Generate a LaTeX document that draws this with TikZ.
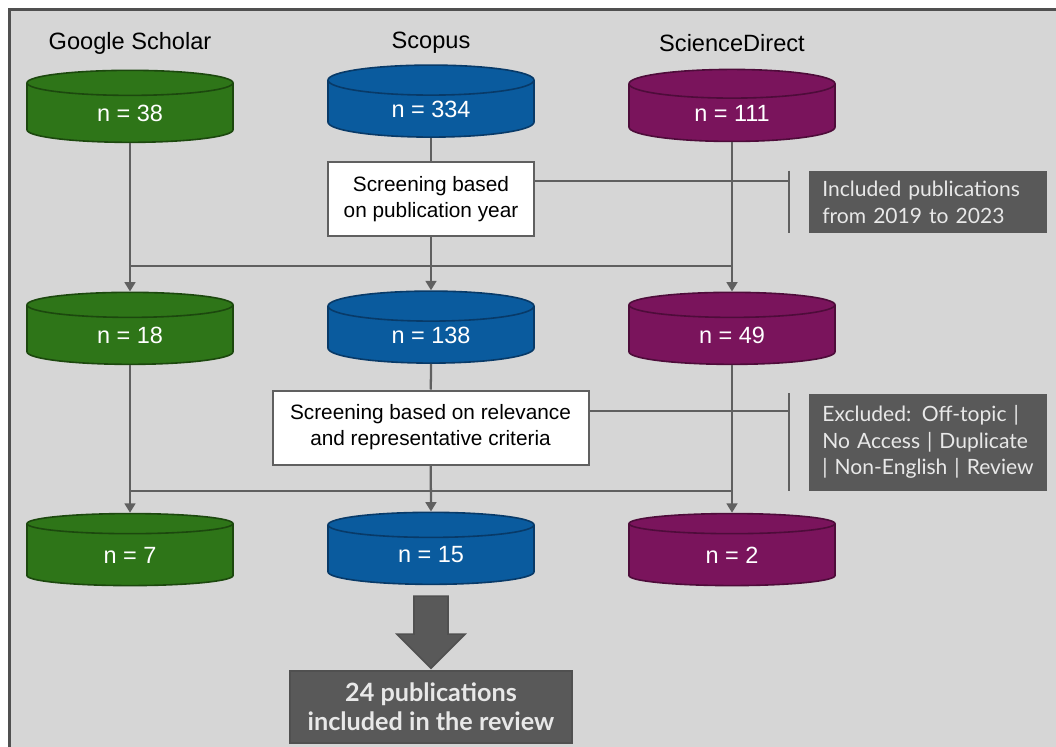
\documentclass[tikz,border=0pt]{standalone}
\usepackage{fontspec}
\setmainfont{Liberation Sans}
\newfontfamily\notefont{Lato}
\usetikzlibrary{shapes.geometric,arrows.meta,calc}
\definecolor{bggray}{RGB}{214,214,214}
\definecolor{framegray}{RGB}{80,80,80}
\definecolor{linegray}{RGB}{96,96,96}
\definecolor{notegray}{RGB}{89,89,89}
\definecolor{notetext}{RGB}{232,232,232}
\definecolor{gsgreen}{RGB}{46,117,24}
\definecolor{gsgreenD}{RGB}{28,72,14}
\definecolor{scblue}{RGB}{10,91,158}
\definecolor{scblueD}{RGB}{8,58,104}
\definecolor{sdpurple}{RGB}{122,20,92}
\definecolor{sdpurpleD}{RGB}{78,12,58}
\begin{document}
\begin{tikzpicture}[x=0.75pt,y=0.75pt,yscale=-1,xscale=1,
  cyl/.style={cylinder, shape border rotate=90, aspect=0.38, minimum width=154.5pt, minimum height=54pt, inner sep=0pt, line width=1.2pt, text=white, font=\fontsize{17.6}{20}\selectfont},
  gscol/.style={fill=gsgreen, draw=gsgreenD},
  sccol/.style={fill=scblue, draw=scblueD},
  sdcol/.style={fill=sdpurple, draw=sdpurpleD},
  dbname/.style={font=\fontsize{17.7}{20}\selectfont},
  screen/.style={draw=linegray, fill=white, line width=1.5pt, align=center, inner sep=0pt, minimum height=55.5pt, font=\fontsize{15.6}{19.5}\selectfont},
  note/.style={fill=notegray, text=notetext, align=left, inner xsep=10pt, inner ysep=0pt, text width=158.5pt, font=\notefont\fontsize{15.8}{20}\selectfont},
  final/.style={fill=notegray, draw=framegray, line width=1.2pt, text=notetext, align=center, inner sep=0pt, minimum width=211.5pt, minimum height=54pt, font=\notefont\bfseries\fontsize{18.9}{21.5}\selectfont},
  link/.style={draw=linegray, line width=1.7pt},
  flow/.style={link, -{Triangle[length=7pt,width=8pt]}},
  bigarrow/.style={fill=notegray, draw=framegray, line width=1.2pt}
]
\path[use as bounding box] (0,0) rectangle (1056,746);
\fill[white] (0,0) rectangle (1056,746);
\draw[fill=bggray, draw=framegray, line width=2.25pt] (9.5,9.5) rectangle (1100,790);

% database names
\node[dbname] (gsname) at (130,43) {Google Scholar};
\node[dbname] (scname) at (431,43) {Scopus};
\node[dbname] (sdname) at (732,43) {ScienceDirect};

% first row
\node[cyl, gscol] (gs1) at (130,113) {n = 38};
\node[cyl, sccol] (sc1) at (431,109) {n = 334};
\node[cyl, sdcol] (sd1) at (732,113) {n = 111};

\node[screen, minimum width=154.5pt] (scr1) at (431,199) {Screening based\\on publication year};
\node[note, minimum height=46.5pt] (note1) at (928,202) {Included publications\\from 2019 to 2023};

% second row
\node[cyl, gscol] (gs2) at (130,335) {n = 18};
\node[cyl, sccol] (sc2) at (431,335) {n = 138};
\node[cyl, sdcol] (sd2) at (732,335) {n = 49};

\node[screen, minimum width=237pt] (scr2) at (430.5,427.5) {Screening based on relevance\\and representative criteria};
\node[note, minimum height=72.75pt] (note2) at (928,442) {Excluded: Off-topic |\\No Access | Duplicate\\| Non-English | Review};

% third row
\node[cyl, gscol] (gs3) at (130,555) {n = 7};
\node[cyl, sccol] (sc3) at (431,555) {n = 15};
\node[cyl, sdcol] (sd3) at (732,555) {n = 2};

\node[final] (total) at (431,706.7) {24 publications\\included in the review};

% screening 1
\coordinate (cut1) at (789,181);
\draw[link] (sc1.bottom) -- (scr1);
\draw[link] (scr1.east |- cut1) -- (cut1);
\draw[link] ($(note1.north west)+(-20,0)$) -- ($(note1.south west)+(-20,0)$);
\coordinate (j1) at (0,266);
\draw[link] (gs1.bottom |- j1) -- (sd1.bottom |- j1);
\draw[flow] (gs1.bottom) -- (gs2.top);
\draw[flow] (scr1) -- (sc2.top);
\draw[flow] (sd1.bottom) -- (sd2.top);

% screening 2
\coordinate (cut2) at (789,411);
\draw[link] (sc2.bottom) -- (scr2);
\draw[link] (scr2.east |- cut2) -- (cut2);
\draw[link] ($(note2.north west)+(-20,0)$) -- ($(note2.south west)+(-20,0)$);
\coordinate (j2) at (0,491);
\draw[link] (gs2.bottom |- j2) -- (sd2.bottom |- j2);
\draw[flow] (gs2.bottom) -- (gs3.top);
\draw[flow] (scr2) -- (sc3.top);
\draw[flow] (sd2.bottom) -- (sd3.top);

% result
\coordinate (arrtop) at ($(sc3.bottom)+(0,11)$);
\draw[bigarrow] ($(arrtop)+(-17,0)$) -- ++(34,0) -- ++(0,38) -- ++(17,0) -- ++(-34,34) -- ++(-34,-34) -- ++(17,0) -- cycle;

\end{tikzpicture}
\end{document}
